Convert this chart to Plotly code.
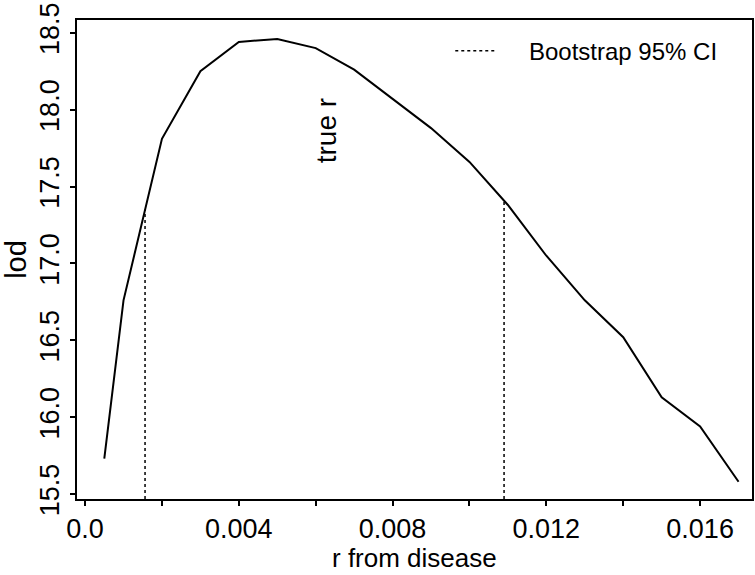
import numpy as np
import plotly.graph_objects as go

# LOD score profile against recombination fraction from the disease locus
r_values = [0.0005, 0.001, 0.002, 0.003, 0.004, 0.005, 0.006, 0.007, 0.008,
            0.009, 0.010, 0.011, 0.012, 0.013, 0.014, 0.015, 0.016, 0.017]
lod_values = [15.73, 16.76, 17.81, 18.25, 18.44, 18.46, 18.40, 18.26, 18.07,
              17.88, 17.66, 17.38, 17.05, 16.76, 16.52, 16.13, 15.94, 15.58]

# Bootstrap 95% confidence interval for r
ci_bounds = [0.00156, 0.0109]

x_tick_vals = [0.0, 0.002, 0.004, 0.006, 0.008, 0.010, 0.012, 0.014, 0.016]
x_tick_text = ["0.0", "", "0.004", "", "0.008", "", "0.012", "", "0.016"]
y_tick_vals = [15.5, 16.0, 16.5, 17.0, 17.5, 18.0, 18.5]
y_tick_text = ["15.5", "16.0", "16.5", "17.0", "17.5", "18.0", "18.5"]

x_range = [-0.00021, 0.01735]
y_range = [15.468, 18.583]

FONT = "Liberation Sans, Arial, Helvetica, sans-serif"
NBSP = "\u00a0"

# vertical CI markers rise from the bottom of the panel to the curve
ci_top = np.interp(ci_bounds, r_values, lod_values)
ci_x, ci_y = [], []
for b, t in zip(ci_bounds, ci_top):
    ci_x += [b, b, None]
    ci_y += [y_range[0], float(t), None]

fig = go.Figure()
fig.add_trace(go.Scatter(
    x=r_values, y=lod_values, mode="lines",
    line=dict(color="black", width=2), showlegend=False,
))
fig.add_trace(go.Scatter(
    x=ci_x, y=ci_y, mode="lines", name=NBSP * 4 + "Bootstrap 95% CI",
    line=dict(color="black", width=1.5, dash="dot"), showlegend=True,
))

fig.add_annotation(
    x=0.00627, y=17.86, xref="x", yref="y", text="true r", showarrow=False,
    textangle=-90, font=dict(family=FONT, size=28, color="black"),
)

# x-axis title set just below the tick labels
fig.add_annotation(
    x=0.5, y=0, xref="paper", yref="paper", text="r from disease",
    showarrow=False, xanchor="center", yanchor="top", yshift=-42,
    font=dict(family=FONT, size=26, color="black"),
)

fig.update_layout(
    width=755, height=575,
    margin=dict(l=77, r=3, t=20, b=76),
    paper_bgcolor="white", plot_bgcolor="white",
    font=dict(family=FONT, size=28, color="black"),
    legend=dict(
        x=0.553, y=0.935, xanchor="left", yanchor="middle",
        bgcolor="rgba(0,0,0,0)", borderwidth=0, itemwidth=42,
        font=dict(family=FONT, size=24, color="black"),
    ),
)
fig.update_xaxes(
    range=x_range, tickmode="array", tickvals=x_tick_vals, ticktext=x_tick_text,
    ticks="outside", ticklen=5, tickwidth=1.5, tickcolor="black",
    showline=True, linecolor="black", linewidth=2, mirror=True,
    showgrid=False, zeroline=False, automargin=False,
    ticklabeloverflow="allow",
    tickfont=dict(size=27),
)
fig.update_yaxes(
    range=y_range, tickmode="array", tickvals=y_tick_vals, ticktext=y_tick_text,
    tickangle=-90,
    ticks="outside", ticklen=5, tickwidth=1.5, tickcolor="black",
    showline=True, linecolor="black", linewidth=2, mirror=True,
    showgrid=False, zeroline=False, automargin=False,
    ticklabeloverflow="allow",
    title=dict(text="lod", standoff=0, font=dict(size=29)),
    tickfont=dict(size=27),
)

fig.write_html("out.html")
